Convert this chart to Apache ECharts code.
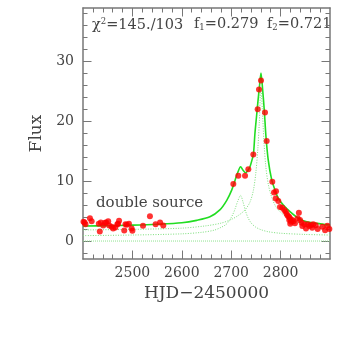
<!DOCTYPE html>
<html><head><meta charset="utf-8">
<script src="https://cdn.jsdelivr.net/npm/echarts@6/dist/echarts.min.js"></script>
<style>html,body{margin:0;padding:0;background:#fff}#c{width:338px;height:343px}</style>
</head><body><div id="c"></div>
<script>
// ---- data ----
const obsHJD = [2401,2403,2405,2414,2417.5,2432,2434,2436,2441,2444.5,2447,2451,2453,2458,2461,2465.5,2469.5,2471,2473,2483.5,2486,2488.5,2493,2498.5,2500,2521.5,2535.5,2547,2556,2562.5,
  2704.3,2714.4,2728,2734.7,2744.8,2753.6,2756.3,2760.3,2768.4,2771.8,2783.2,2786.6,2790.7,2790,2795.4,2798.8,2803.4,2807.5,2810.3,2812.4,2814.4,2817,2819,2817.5,2821,2819.5,2823.7,2826,2829,2834.6,2837,2839.3,2842.7,2844,2848,2851.4,2855,2858,2861.5,2864,2866,2871,2875,2884.5,2890,2894.7,2898.7];
const obsFlux = [3.2,3.1,2.8,3.8,3.3,2.9,1.6,3.1,2.6,3.05,3.1,3.3,2.6,2.4,2.1,2.25,2.8,2.9,3.4,1.75,2.8,2.7,2.9,2.1,1.7,2.55,4.15,2.8,3.1,2.6,
  9.5,10.9,10.9,12.0,14.45,22.0,25.3,26.8,21.45,16.7,9.9,8.1,8.3,7.1,6.7,5.7,5.55,5.2,4.9,4.5,4.2,4.05,3.8,3.5,3.2,2.9,3.5,3.3,2.95,3.8,4.7,3.5,3.05,2.5,2.8,2.1,2.8,2.5,2.65,2.2,2.8,2.65,2.0,2.4,1.8,2.55,2.0];

const totT = [2400,2450,2500,2550,2600,2630,2657,2677,2691,2701,2708,2714,2719,2724,2729,2734,2738,2742,2745,2748,2751.5,2754,2757,2760.3,2763.5,2767,2770.4,2775,2782,2788.7,2795.5,2805.5,2819,2836,2853,2873,2900];
const totF = [2.5,2.55,2.65,2.8,3.05,3.45,4.05,5.2,6.8,8.5,10.2,11.6,12.4,11.8,11.4,11.8,12.4,13.5,14.5,17.9,21,23.2,25.6,28.05,25.4,21.8,17.4,13.5,10.2,8.5,7.1,6.0,4.9,3.8,3.2,2.95,2.67];

const src1T = [2400,2500,2600,2640,2665,2680,2690,2697,2703,2708,2713,2719,2724,2729,2734,2741,2750,2760,2775,2800,2850,2900];
const src1F = [0.9,1.0,1.2,1.45,1.8,2.3,2.8,3.5,4.4,5.4,6.6,7.6,6.5,5.0,3.9,2.95,2.3,1.9,1.55,1.3,1.1,1.0];

const src2T = [2400,2500,2600,2650,2680,2700,2715,2728,2738,2745,2750,2754,2757,2760,2763,2766,2770,2775,2782,2790,2800,2820,2850,2875,2900];
const src2F = [1.85,1.95,2.15,2.55,3.0,3.6,4.3,5.2,6.5,8.5,11.5,15.5,20,25.5,22,17,12.5,9.5,7.3,5.8,4.8,3.6,2.8,2.5,2.3];

const zeroT = [2400,2900];
const zeroF = [0,0];

const xMajor = [2500,2600,2700,2800];
const xMinor = [2420,2440,2460,2480,2520,2540,2560,2580,2620,2640,2660,2680,2720,2740,2760,2780,2820,2840,2860,2880];
const yMajor = [0,10,20,30];
const yMinor = [-2,2,4,6,8,12,14,16,18,22,24,26,28,32,34,36,38];
const X_MIN = 2400, X_MAX = 2900, Y_MIN = -3, Y_MAX = 38.9;

const zip = (a,b) => a.map((v,i)=>[v,b[i]]);

const FONT = 'DejaVu Serif';
const AXC = '#777';
const TXC = '#444';

function xAx(pos, ticks, len, labels, line, extra) {
  return Object.assign({
    type:'value', position:pos, min:X_MIN, max:X_MAX, gridIndex:0,
    axisLine:{show:line, onZero:false, lineStyle:{color:AXC, width:1.5}},
    axisTick:{show:true, inside:true, length:len, customValues:ticks, lineStyle:{color:AXC, width:1}},
    axisLabel:{show:labels, customValues:labels?ticks:undefined, formatter:v=>String(v), color:TXC, fontFamily:FONT, fontSize:14, margin:7},
    splitLine:{show:false}
  }, extra||{});
}
function yAx(pos, ticks, len, labels, line, extra) {
  return Object.assign({
    type:'value', position:pos, min:Y_MIN, max:Y_MAX, gridIndex:0,
    axisLine:{show:line, onZero:false, lineStyle:{color:AXC, width:1.5}},
    axisTick:{show:true, inside:true, length:len, customValues:ticks, lineStyle:{color:AXC, width:1}},
    axisLabel:{show:labels, customValues:labels?ticks:undefined, formatter:v=>String(v), color:TXC, fontFamily:FONT, fontSize:14, margin:9},
    splitLine:{show:false}
  }, extra||{});
}

const T = {fontFamily:FONT, fontSize:14.5, fill:TXC};
const SUP = {fontFamily:FONT, fontSize:8.5, fill:TXC, padding:[0,0,7,0]};
const SUB = {fontFamily:FONT, fontSize:8.5, fill:TXC, padding:[7,0,0,0]};

const chart = echarts.init(document.getElementById('c'), null, {renderer:'canvas'});
chart.setOption({
  animation:false,
  backgroundColor:'#fff',
  grid:{left:83, right:8, top:8, bottom:84, containLabel:false},
  xAxis:[
    xAx('bottom', xMajor, 8.5, true, true, {name:'HJD\u22122450000', nameLocation:'middle', nameGap:26,
      nameTextStyle:{color:TXC, fontFamily:FONT, fontSize:17}}),
    xAx('bottom', xMinor, 4.5, false, false),
    xAx('top', xMajor, 8.5, false, true),
    xAx('top', xMinor, 4.5, false, false)
  ],
  yAxis:[
    yAx('left', yMajor, 8.5, true, true, {name:'Flux', nameLocation:'middle', nameGap:29,
      nameTextStyle:{color:TXC, fontFamily:FONT, fontSize:17}}),
    yAx('left', yMinor, 4.5, false, false),
    yAx('right', yMajor, 8.5, false, true),
    yAx('right', yMinor, 4.5, false, false)
  ],
  graphic:[
    {type:'text', left:92, top:17, style:{text:'{t|\u03c7}{s|2}{t|=145./103}', rich:{t:T, s:SUP}}},
    {type:'text', left:194, top:17, style:{text:'{t|f}{s|1}{t|=0.279}', rich:{t:T, s:SUB}}},
    {type:'text', left:267, top:17, style:{text:'{t|f}{s|2}{t|=0.721}', rich:{t:T, s:SUB}}},
    {type:'text', left:96, top:196, style:{text:'double source', fontFamily:FONT, fontSize:15, fill:TXC}}
  ],
  series:[
    {type:'line', xAxisIndex:0, yAxisIndex:0, data:zip(zeroT,zeroF), symbol:'none',
      lineStyle:{color:'#8fe48f', width:1, type:[1,1]}, z:1},
    {type:'line', xAxisIndex:0, yAxisIndex:0, data:zip(src1T,src1F), symbol:'none', smooth:0.3,
      lineStyle:{color:'#7ddf7d', width:1, type:[1,1.5]}, z:2},
    {type:'line', xAxisIndex:0, yAxisIndex:0, data:zip(src2T,src2F), symbol:'none', smooth:0.3,
      lineStyle:{color:'#7ddf7d', width:1, type:[1,1.5]}, z:2},
    {type:'line', xAxisIndex:0, yAxisIndex:0, data:zip(totT,totF), symbol:'none', smooth:0.3,
      lineStyle:{color:'#22dd22', width:1.6}, z:3},
    {type:'scatter', xAxisIndex:0, yAxisIndex:0, data:zip(obsHJD,obsFlux), symbol:'circle', symbolSize:6,
      itemStyle:{color:'#ff0000'}, z:4}
  ]
});
</script></body></html>
